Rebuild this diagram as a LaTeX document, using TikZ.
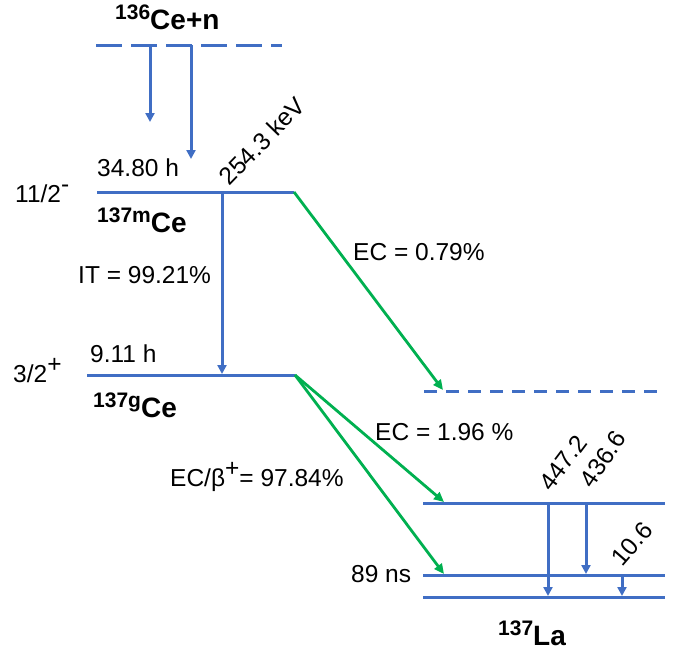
\documentclass[tikz,border=0pt]{standalone}
\usepackage{fontspec}
\setmainfont{Liberation Sans}
\usetikzlibrary{arrows.meta}
\definecolor{lvblue}{RGB}{64,110,196}
\definecolor{ecgreen}{RGB}{0,176,80}
\newcommand\nucsup[1]{\raisebox{9.5pt}{\fontsize{21}{21}\selectfont #1}}
\newcommand\spinsup[1]{\raisebox{10pt}{#1}}
\begin{document}
\begin{tikzpicture}[x=1pt,y=-1pt,
  lev/.style={draw=lvblue,line width=3pt},
  dlevtop/.style={lev,dash pattern=on 26pt off 9pt},
  dlevlow/.style={lev,dash pattern=on 13pt off 9pt},
  barrow/.style={draw=lvblue,line width=3pt,-{Triangle[width=9pt,length=9pt]}},
  garrow/.style={draw=ecgreen,line width=2.8pt,-{Triangle[width=9pt,length=10pt]}},
  lbl/.style={inner sep=0pt,anchor=base west,font=\fontsize{24.5}{24.5}\selectfont},
  nuc/.style={inner sep=0pt,anchor=base west,font=\bfseries\fontsize{28}{28}\selectfont},
  rlbl/.style={inner sep=0pt,font=\fontsize{24.5}{24.5}\selectfont}
]
\useasboundingbox (0,0) rectangle (683,653);
% level end points
\coordinate (t1) at (96,45);   \coordinate (t2) at (282,45);
\coordinate (m1) at (97,192);  \coordinate (m2) at (294,192);
\coordinate (g1) at (87,375);  \coordinate (g2) at (295,375);
\coordinate (d1) at (424,391); \coordinate (d2) at (660,391);
\coordinate (a1) at (423,503); \coordinate (a2) at (665,503);
\coordinate (b1) at (423,575); \coordinate (b2) at (665,575);
\coordinate (c1) at (423,597); \coordinate (c2) at (665,597);
% levels
\draw[dlevtop] (t1) -- (t2);
\draw[lev] (m1) -- (m2);
\draw[lev] (g1) -- (g2);
\draw[dlevlow] (d1) -- (d2);
\draw[lev] (a1) -- (a2);
\draw[lev] (b1) -- (b2);
\draw[lev] (c1) -- (c2);
% arrow end points
\coordinate (ta) at (150,45);  \coordinate (tae) at (150,122);
\coordinate (tb) at (191,45);  \coordinate (tbe) at (191,159);
\coordinate (it) at (222,192); \coordinate (ite) at (222,374);
\coordinate (ecd) at (443,390);
\coordinate (eca) at (444,502);
\coordinate (ecb) at (444,574);
\coordinate (ga) at (548,503); \coordinate (gae) at (548,596);
\coordinate (gb) at (586,503); \coordinate (gbe) at (586,574);
\coordinate (gc) at (622,575); \coordinate (gce) at (622,596);
% arrows
\draw[barrow] (ta) -- (tae);
\draw[barrow] (tb) -- (tbe);
\draw[barrow] (it) -- (ite);
\draw[garrow] (m2) -- (ecd);
\draw[garrow] (g2) -- (eca);
\draw[garrow] (g2) -- (ecb);
\draw[barrow] (ga) -- (gae);
\draw[barrow] (gb) -- (gbe);
\draw[barrow] (gc) -- (gce);
% labels
\node[nuc] (ce136) at (115,29.5) {\nucsup{136}Ce+n};
\node[nuc] (ce137m) at (97,232) {\nucsup{137m}Ce};
\node[nuc] (ce137g) at (93,417) {\nucsup{137g}Ce};
\node[nuc] (la137) at (498,645) {\nucsup{137}La};
\node[lbl] (tm) at (97,176) {34.80 h};
\node[lbl] (sm) at (15,202) {11/2\spinsup{-}};
\node[lbl] (itl) at (78,283) {IT = 99.21\%};
\node[lbl] (tg) at (90,362) {9.11 h};
\node[lbl] (sg) at (13,382) {3/2\spinsup{+}};
\node[lbl] (ec1) at (353,260) {EC = 0.79\%};
\node[lbl] (ec2) at (375,440) {EC = 1.96 \%};
\node[lbl] (ec3) at (170,486) {EC/β\spinsup{+}= 97.84\%};
\node[lbl] (ns) at (351,582) {89 ns};
\node[rlbl,rotate=46] (kev) at (262,141) {254.3 keV};
\node[rlbl,rotate=53] (e1) at (563,463) {447.2};
\node[rlbl,rotate=56] (e2) at (603,459) {436.6};
\node[rlbl,rotate=49] (e3) at (632,544) {10.6};
\end{tikzpicture}
\end{document}
